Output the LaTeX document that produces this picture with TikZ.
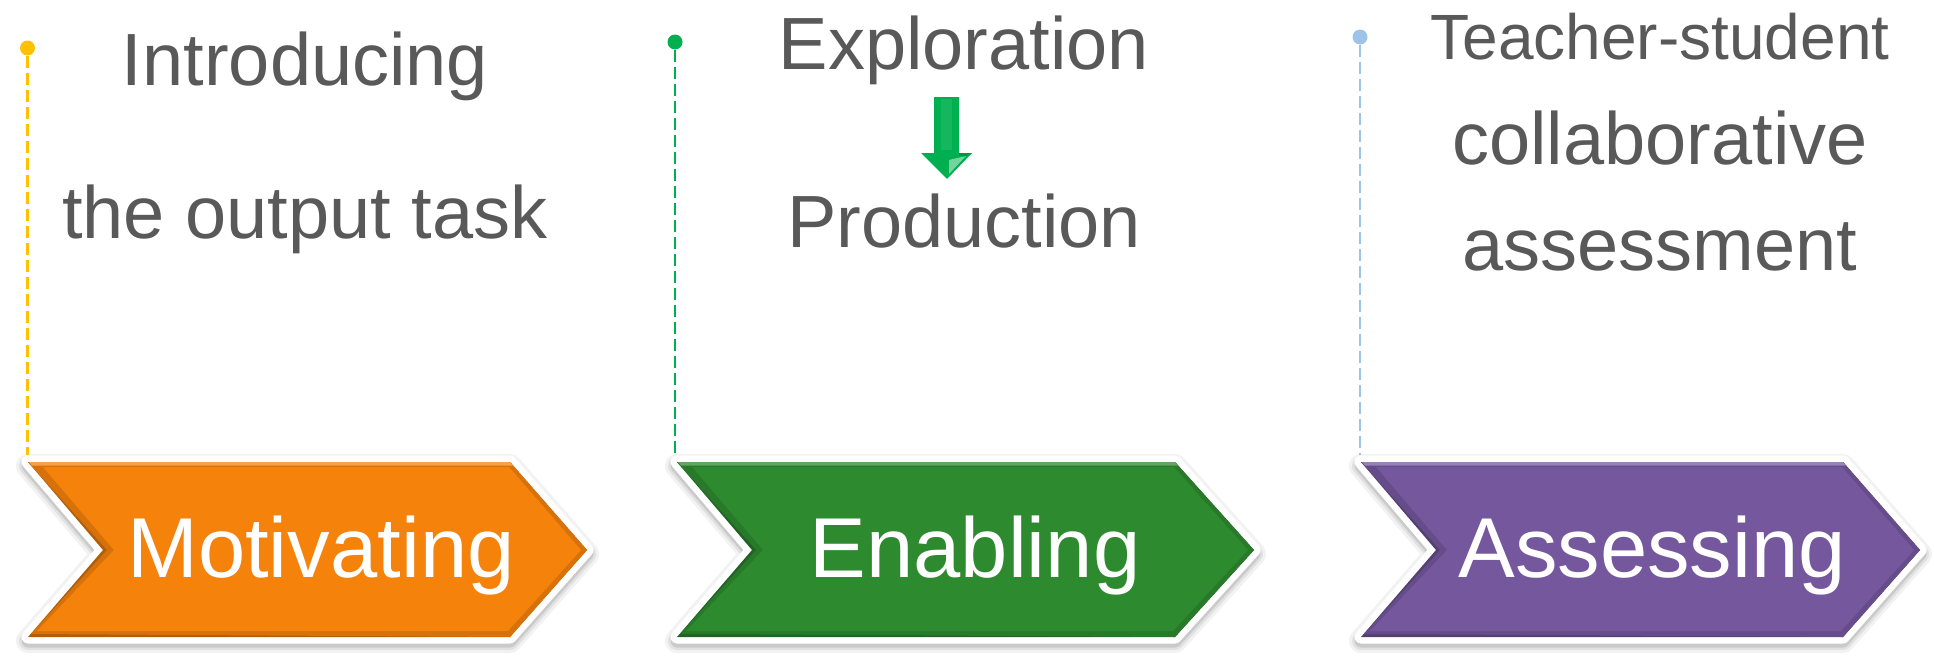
\documentclass[tikz,border=0pt]{standalone}
\usepackage{fontspec}
\setmainfont{Liberation Sans}
\definecolor{txtgray}{HTML}{595959}
\definecolor{tabOrange}{HTML}{F5820B}
\definecolor{tabGreen}{HTML}{2D8A2F}
\definecolor{tabPurple}{HTML}{74579D}
\definecolor{dotGold}{HTML}{FFC000}
\definecolor{dotGreen}{HTML}{00B050}
\definecolor{dotBlue}{HTML}{9DC3E6}

% chevron tab: #1 left edge, #2 end of body, #3 tip, #4 notch, #5 colour
\newcommand\drawtab[5]{%
  % soft drop shadow
  \begin{scope}[yshift=-4pt]
    \foreach \w/\o in {24/0.05,18/0.07,13/0.10}
      \draw[black, opacity=\o, fill, line width=\w pt, line join=round]
        (#1,462) -- (#2,462) -- (#3,550) -- (#2,637) -- (#1,637) -- (#4,550) -- cycle;
  \end{scope}
  % white rim
  \draw[white, fill=white, line width=13pt, line join=round]
    (#1,462) -- (#2,462) -- (#3,550) -- (#2,637) -- (#1,637) -- (#4,550) -- cycle;
  % bevel: darker edge underneath, body colour inset on top
  \fill[#5!72!black]
    (#1,462) -- (#2,462) -- (#3,550) -- (#2,637) -- (#1,637) -- (#4,550) -- cycle;
  \fill[#5!88!black]
    (#1,462) -- (#2,462) -- (#3,550) -- (#2,637) -- (#1+3,634) -- (#4+4,550) -- cycle;
  \fill[#5]
    (#1+15,467) -- (#2-1,467) -- (#3-6,550) -- (#2-2,631) -- (#1+9,631) -- (#4+11,550) -- cycle;
  \fill[#5!75!white]
    (#1+1,462) -- (#2,462) -- (#2+2.5,465.5) -- (#1+4,465.5) -- cycle;
}

\begin{document}
\begin{tikzpicture}[x=1pt,y=-1pt,
  headtext/.style={anchor=base, text=txtgray, inner sep=0pt,
    font=\fontsize{74}{80}\selectfont},
  headsmall/.style={headtext, font=\fontsize{64}{70}\selectfont},
  tabtext/.style={anchor=base, text=white, inner sep=0pt,
    font=\fontsize{85}{90}\selectfont},
  pin/.style={circle, inner sep=0pt, minimum size=15pt},
  leader/.style={dash pattern=on 12pt off 5pt, line width=2.8pt}]

\useasboundingbox (0,0) rectangle (1934,656);

% the three stage tabs
\drawtab{28}{510}{587}{103}{tabOrange}
\drawtab{677}{1175}{1254}{752}{tabGreen}
\drawtab{1361}{1843}{1920}{1436}{tabPurple}

\node[tabtext] (motivating) at (321,577) {Motivating};
\node[tabtext] (enabling)   at (975,577) {Enabling};
\node[tabtext] (assessing)  at (1652,577) {Assessing};

% leader pins
\node[pin, fill=dotGold]  (pinA) at (27.5,48) {};
\node[pin, fill=dotGreen] (pinB) at (675,42) {};
\node[pin, fill=dotBlue]  (pinC) at (1360,37) {};
\coordinate (topA) at (27.5,455);
\coordinate (topB) at (675,455);
\coordinate (topC) at (1360,455);
\draw[leader, dotGold]  (pinA) -- (topA);
\draw[leader, dotGreen] (pinB) -- (topB);
\draw[leader, dotBlue]  (pinC) -- (topC);

% stage descriptions
\node[headtext] (intro1) at (305,85)  {Introducing};
\node[headtext] (intro2) at (305,238) {the output task};

\node[headtext] (explore) at (964,69)  {Exploration};
\node[headtext] (produce) at (964,247) {Production};

\node[headsmall] (assess1) at (1660,59)  {Teacher-student};
\node[headtext]  (assess2) at (1660,164) {collaborative};
\node[headtext]  (assess3) at (1660,270) {assessment};

% green down arrow between exploration and production
\fill[dotGreen] (934,97) -- (959,97) -- (959,153) -- (972,153) -- (947,179)
  -- (921,153) -- (934,153) -- cycle;
\fill[dotGreen!92!white] (941,99) -- (952,99) -- (952,150) -- (941,150) -- cycle;
\fill[dotGreen!55!white] (949,160) -- (966,156) -- (949,174) -- cycle;
\fill[dotGreen!85!black] (959,153) -- (972,153) -- (966,156) -- (959,156) -- cycle;
\end{tikzpicture}
\end{document}
